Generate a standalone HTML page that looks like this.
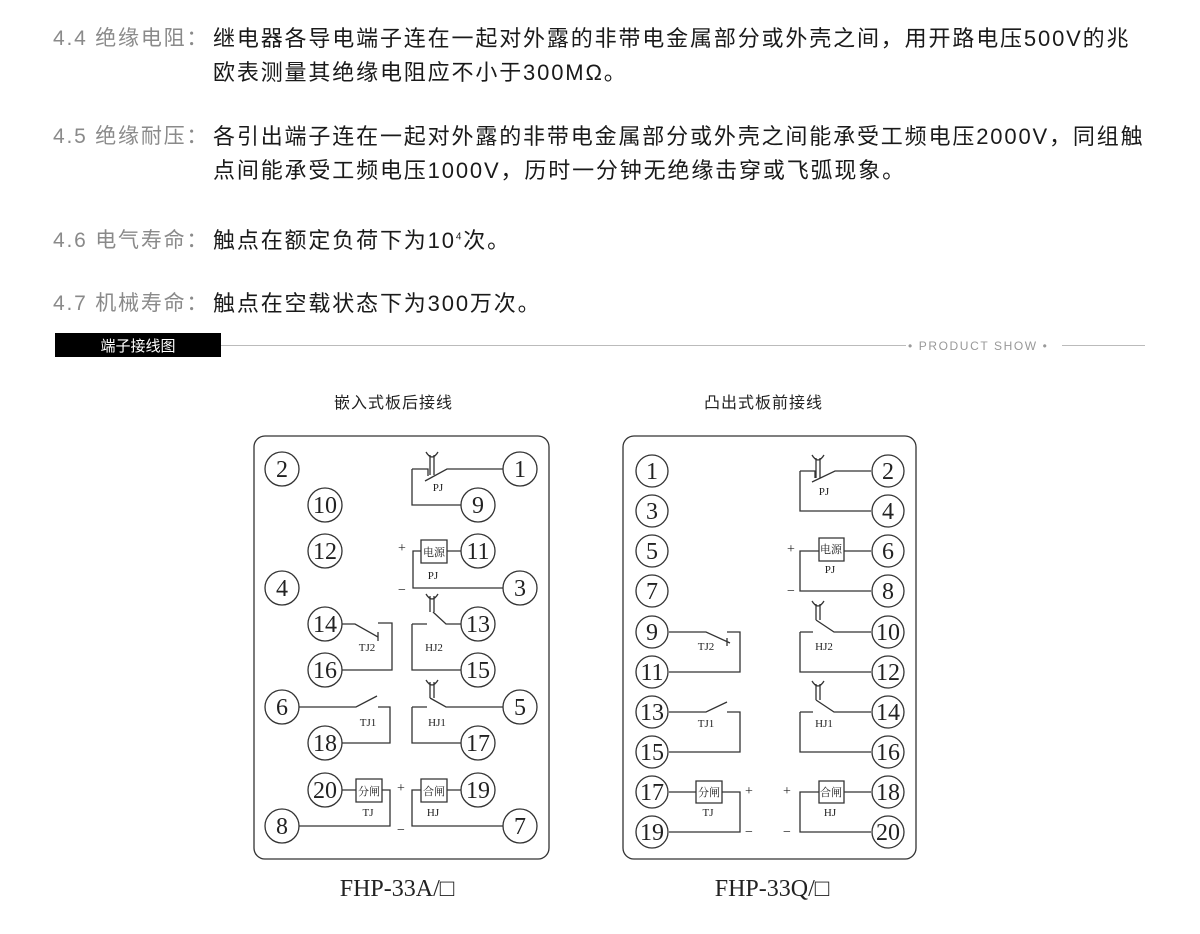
<!DOCTYPE html>
<html><head><meta charset="utf-8"><style>
html,body{margin:0;padding:0;background:#fff;width:1200px;height:934px;overflow:hidden;position:relative}
.t{position:absolute;white-space:nowrap;font-family:"Liberation Sans","Noto Sans CJK SC",sans-serif}
.lab{left:53px;font-size:21px;color:#8a8a8a;letter-spacing:1.8px}
.body{left:213px;font-size:22px;color:#1a1a1a;letter-spacing:1.85px}
</style></head><body>
<div class="t lab" style="top:22px">4.4 绝缘电阻：</div>
<div class="t body" style="top:21px">继电器各导电端子连在一起对外露的非带电金属部分或外壳之间，用开路电压500V的兆</div>
<div class="t body" style="top:55px">欧表测量其绝缘电阻应不小于300MΩ。</div>
<div class="t lab" style="top:120px">4.5 绝缘耐压：</div>
<div class="t body" style="top:119px">各引出端子连在一起对外露的非带电金属部分或外壳之间能承受工频电压2000V，同组触</div>
<div class="t body" style="top:153px">点间能承受工频电压1000V，历时一分钟无绝缘击穿或飞弧现象。</div>
<div class="t lab" style="top:224px">4.6 电气寿命：</div>
<div class="t body" style="top:223px">触点在额定负荷下为10<sup style="font-size:10px">4</sup>次。</div>
<div class="t lab" style="top:287px">4.7 机械寿命：</div>
<div class="t body" style="top:286px">触点在空载状态下为300万次。</div>
<div style="position:absolute;left:55px;top:333px;width:166px;height:24px;background:#000"></div>
<div class="t" style="left:55px;top:335px;width:166px;text-align:center;color:#fff;font-size:15px">端子接线图</div>
<div style="position:absolute;left:221px;top:345px;width:685px;height:1px;background:#bbb"></div>
<div style="position:absolute;left:1062px;top:345px;width:83px;height:1px;background:#bbb"></div>
<div class="t" style="left:908px;top:339px;font-size:12px;color:#999;letter-spacing:1.6px">• PRODUCT SHOW •</div>
<div class="t" style="left:334px;top:389px;font-size:16px;color:#222;letter-spacing:1px">嵌入式板后接线</div>
<div class="t" style="left:704px;top:389px;font-size:16px;color:#222;letter-spacing:1px">凸出式板前接线</div>
<svg style="position:absolute;left:0;top:0" width="1200" height="934" font-family="Liberation Serif,Noto Serif CJK SC,serif">
<g fill="none" stroke="#333" stroke-width="1.3">
<rect x="254" y="436" width="295" height="423" rx="11"/>
<rect x="623" y="436" width="293" height="423" rx="11"/>
<path d="M503 469H447L425 481M412 469H428V476M412 469V505H461"/>
<path d="M430 475V455M434 475V455M426 452Q432 462 438 452"/>
<path d="M421 540h26v23h-26z"/>
<path d="M447 551H461M421 551H413V588H503"/>
<path d="M433 612L446 624H461M430 612V596M434 612V596M426 594Q432 604 438 594M412 624H427M412 624V670H461"/>
<path d="M342 624H355L378 637M378 632V641M378 623H392V670H342"/>
<path d="M299 707H356L377 696M378 707H390V743H342"/>
<path d="M430 698L446 707H503M430 698V682M434 698V682M426 680Q432 690 438 680M412 707H427M412 707V743H461"/>
<path d="M356 779h26v23h-26zM342 790H356M382 790H390V826H299"/>
<path d="M421 779h26v23h-26zM447 790H461M421 790H412V826H503"/>
<path d="M871 471H835L812 482M800 471H815V478M800 471V511H871M816 478V458M820 478V458M812 455Q818 465 824 455"/>
<path d="M819 538h25v23h-25zM844 551H871M819 551H800V591H871"/>
<path d="M816 620L834 632H871M816 620V604M820 620V604M812 601Q818 611 824 601M800 632H813M800 632V672H871"/>
<path d="M669 632H706L730 643M727 638V646M727 632H740V672H669"/>
<path d="M669 712H706L727 702M727 712H740V752H669"/>
<path d="M816 700L834 712H871M816 700V684M820 700V684M812 681Q818 691 824 681M800 712H813M800 712V752H871"/>
<path d="M696 781h26v22h-26zM669 792H696M722 792H740V832H669"/>
<path d="M819 781h25v22h-25zM844 792H871M819 792H800V832H871"/>
</g>
<g fill="#fff" stroke="#333" stroke-width="1.3">
<circle cx="282" cy="469" r="17"/><circle cx="325" cy="505" r="17"/><circle cx="325" cy="551" r="17"/><circle cx="282" cy="588" r="17"/><circle cx="325" cy="624" r="17"/><circle cx="325" cy="670" r="17"/><circle cx="282" cy="707" r="17"/><circle cx="325" cy="743" r="17"/><circle cx="325" cy="790" r="17"/><circle cx="282" cy="826" r="17"/>
<circle cx="520" cy="469" r="17"/><circle cx="478" cy="505" r="17"/><circle cx="478" cy="551" r="17"/><circle cx="520" cy="588" r="17"/><circle cx="478" cy="624" r="17"/><circle cx="478" cy="670" r="17"/><circle cx="520" cy="707" r="17"/><circle cx="478" cy="743" r="17"/><circle cx="478" cy="790" r="17"/><circle cx="520" cy="826" r="17"/>
<circle cx="652" cy="471" r="16"/><circle cx="652" cy="511" r="16"/><circle cx="652" cy="551" r="16"/><circle cx="652" cy="591" r="16"/><circle cx="652" cy="632" r="16"/><circle cx="652" cy="672" r="16"/><circle cx="652" cy="712" r="16"/><circle cx="652" cy="752" r="16"/><circle cx="652" cy="792" r="16"/><circle cx="652" cy="832" r="16"/>
<circle cx="888" cy="471" r="16"/><circle cx="888" cy="511" r="16"/><circle cx="888" cy="551" r="16"/><circle cx="888" cy="591" r="16"/><circle cx="888" cy="632" r="16"/><circle cx="888" cy="672" r="16"/><circle cx="888" cy="712" r="16"/><circle cx="888" cy="752" r="16"/><circle cx="888" cy="792" r="16"/><circle cx="888" cy="832" r="16"/>
</g>
<g font-size="24" fill="#222" text-anchor="middle">
<text x="282" y="477">2</text><text x="325" y="513">10</text><text x="325" y="559">12</text><text x="282" y="596">4</text><text x="325" y="632">14</text><text x="325" y="678">16</text><text x="282" y="715">6</text><text x="325" y="751">18</text><text x="325" y="798">20</text><text x="282" y="834">8</text>
<text x="520" y="477">1</text><text x="478" y="513">9</text><text x="478" y="559">11</text><text x="520" y="596">3</text><text x="478" y="632">13</text><text x="478" y="678">15</text><text x="520" y="715">5</text><text x="478" y="751">17</text><text x="478" y="798">19</text><text x="520" y="834">7</text>
<text x="652" y="479">1</text><text x="652" y="519">3</text><text x="652" y="559">5</text><text x="652" y="599">7</text><text x="652" y="640">9</text><text x="652" y="680">11</text><text x="652" y="720">13</text><text x="652" y="760">15</text><text x="652" y="800">17</text><text x="652" y="840">19</text>
<text x="888" y="479">2</text><text x="888" y="519">4</text><text x="888" y="559">6</text><text x="888" y="599">8</text><text x="888" y="640">10</text><text x="888" y="680">12</text><text x="888" y="720">14</text><text x="888" y="760">16</text><text x="888" y="800">18</text><text x="888" y="840">20</text>
</g>
<g font-size="11" fill="#222" text-anchor="middle">
<text x="438" y="491">PJ</text><text x="433" y="579">PJ</text><text x="434" y="651">HJ2</text><text x="367" y="651">TJ2</text><text x="368" y="726">TJ1</text><text x="437" y="726">HJ1</text><text x="368" y="816">TJ</text><text x="433" y="816">HJ</text>
<text x="824" y="495">PJ</text><text x="830" y="573">PJ</text><text x="824" y="650">HJ2</text><text x="706" y="650">TJ2</text><text x="706" y="727">TJ1</text><text x="824" y="727">HJ1</text><text x="708" y="816">TJ</text><text x="830" y="816">HJ</text>
<text x="434" y="556">电源</text><text x="369" y="795">分闸</text><text x="434" y="795">合闸</text>
<text x="831" y="553">电源</text><text x="709" y="796">分闸</text><text x="831" y="796">合闸</text>
</g>
<g font-size="14" fill="#222" text-anchor="middle">
<text x="402" y="552">+</text><text x="402" y="594">−</text><text x="401" y="792">+</text><text x="401" y="834">−</text>
<text x="791" y="553">+</text><text x="791" y="595">−</text><text x="749" y="795">+</text><text x="749" y="836">−</text><text x="787" y="795">+</text><text x="787" y="836">−</text>
</g>
<g font-size="24" fill="#222" text-anchor="middle">
<text x="397" y="896">FHP-33A/□</text><text x="772" y="896">FHP-33Q/□</text>
</g>
</svg>
</body></html>
